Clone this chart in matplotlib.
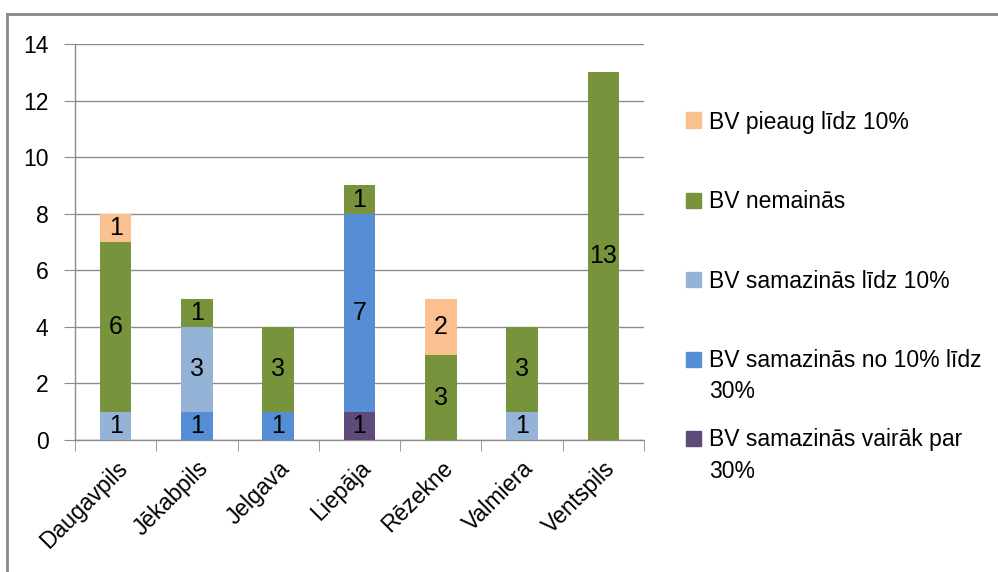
import numpy as np
import matplotlib.pyplot as plt
from matplotlib.lines import Line2D
from matplotlib.patches import Rectangle

plt.rcParams['font.family'] = ['Liberation Sans', 'DejaVu Sans']

# Data
cities = ['Daugavpils', 'Jēkabpils', 'Jelgava', 'Liepāja', 'Rēzekne', 'Valmiera', 'Ventspils']
drop_over_30 = [0, 0, 0, 1, 0, 0, 0]
drop_10_30 = [0, 1, 1, 7, 0, 0, 0]
drop_to_10 = [1, 3, 0, 0, 0, 1, 0]
no_change = [6, 1, 3, 1, 3, 3, 13]
grow_to_10 = [1, 0, 0, 0, 2, 0, 0]

series = [drop_over_30, drop_10_30, drop_to_10, no_change, grow_to_10]
names = ['BV samazinās vairāk par\n30%', 'BV samazinās no 10% līdz\n30%',
         'BV samazinās līdz 10%', 'BV nemainās', 'BV pieaug līdz 10%']
colors = ['#604A7B', '#558ED5', '#95B3D7', '#77933C', '#FAC090']

W, H = 998, 572
fig = plt.figure(figsize=(W / 100, H / 100), dpi=100)
ax = fig.add_axes([75 / W, (H - 440) / H, (644 - 75) / W, (440 - 44) / H])

x = np.arange(len(cities))
bottom = np.zeros(len(cities))
for vals, c in zip(series, colors):
    bars = ax.bar(x, vals, 0.39, bottom=bottom, color=c, zorder=3)
    ax.bar_label(bars, labels=[str(v) if v else '' for v in vals],
                 label_type='center', fontsize=18, color='black', zorder=4)
    bottom += np.array(vals)

grid = '#8c8c8c'
ax.set_ylim(0, 14)
ax.set_xlim(-0.5, len(cities) - 0.5)
ax.set_yticks(range(0, 15, 2))
ax.yaxis.grid(True, color=grid, linewidth=1.0, zorder=0)
ax.tick_params(axis='y', length=8, color=grid, labelsize=16.5, pad=11)

ax.set_xticks(x)
ax.set_xticklabels(cities, rotation=45, ha='right', va='top',
                   rotation_mode='anchor', fontsize=16.5)
ax.set_xticks(np.arange(-0.5, len(cities)), minor=True)
ax.tick_params(axis='x', which='major', length=0, pad=12)
ax.tick_params(axis='x', which='minor', length=8, color=grid)

for s in ['top', 'right']:
    ax.spines[s].set_visible(False)
for s in ['left', 'bottom']:
    ax.spines[s].set_color(grid)
    ax.spines[s].set_linewidth(1.0)

# Legend (top to bottom), baseline of last line placed by hand
legend_y = [120, 200, 279, 359, 438]
line_gap = 31
for name, c, yc in zip(names[::-1], colors[::-1], legend_y):
    n_extra = name.count('\n')
    fig.add_artist(Rectangle((686 / W, (H - yc - 7.5) / H), 15 / W, 15 / H,
                             transform=fig.transFigure, color=c))
    base = yc + 8.5 + n_extra * line_gap
    fig.text(709 / W, (H - base) / H, name, fontsize=16.5, va='baseline',
             ha='left', linespacing=1.45)

# Outer frame
fig.add_artist(Line2D([7 / W, 1], [(H - 14) / H] * 2, color='#888888', lw=2,
                      transform=fig.transFigure))
fig.add_artist(Line2D([7 / W] * 2, [0, (H - 14) / H], color='#888888', lw=2,
                      transform=fig.transFigure))

fig.savefig('out.png', dpi=100)
